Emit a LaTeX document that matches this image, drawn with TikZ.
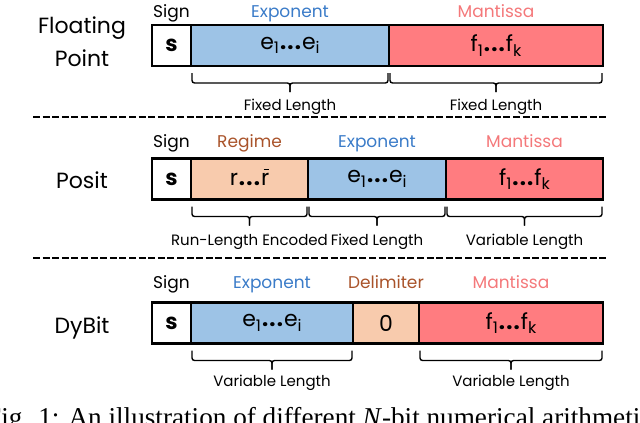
\documentclass[tikz,border=0pt]{standalone}
\usepackage{fontspec}
\setmainfont{Poppins}
\newfontfamily\capfont{Liberation Serif}
\usetikzlibrary{positioning,calc}
\definecolor{expfill}{HTML}{9DC3E6}
\definecolor{manfill}{HTML}{FF7C80}
\definecolor{regfill}{HTML}{F8CBAD}
\definecolor{exptext}{HTML}{3A7BC8}
\definecolor{mantext}{HTML}{F4787A}
\definecolor{regtext}{HTML}{A9532A}
\tikzset{
  field/.style={draw, line width=2.5pt, minimum height=41pt, inner sep=0pt,
    outer sep=0pt, anchor=west, font=\fontsize{22}{22}\selectfont},
  signfield/.style={field, minimum width=39pt, font=\fontsize{22}{22}\selectfont\bfseries},
  hdr/.style={anchor=base, inner sep=0pt, font=\fontsize{17}{17}\selectfont},
  rowname/.style={anchor=base, inner sep=0pt, font=\fontsize{22}{22}\selectfont},
  lenlabel/.style={anchor=base, inner sep=0pt, font=\fontsize{15}{15}\selectfont},
  bracket/.style={line width=1.4pt, rounded corners=2.5pt},
  sepline/.style={line width=2.5pt, dash pattern=on 7pt off 2.6pt},
}
% bracket under a field: #1 left, #2 right
\newcommand{\lenbrace}[2]{%
  \draw[bracket] ($(#1)+(1,7)$) |- ($(#1)!0.5!(#2)+(0,17)$) -- ++(0,9);
  \draw[bracket] ($(#2)+(-1,7)$) |- ($(#1)!0.5!(#2)+(0,17)$) -- ++(0,9);
}
\newcommand{\bitsub}[1]{\raisebox{-0.2em}{\fontsize{16}{16}\selectfont #1}}
\newcommand{\bitdots}{\kern1pt{\bfseries .\kern1.2pt.\kern1.2pt.}\kern1pt}
\newcommand{\ebits}{e\bitsub{1}\bitdots e\bitsub{i}}
\newcommand{\fbits}{f\bitsub{1}\bitdots f\bitsub{k}}
\newcommand{\rbar}{\ooalign{r\cr\hidewidth\kern0.1em\raisebox{0.68em}{\rule{0.24em}{0.07em}}\hidewidth\cr}}
\begin{document}
\begin{tikzpicture}[x=1pt, y=-1pt]
  \useasboundingbox (0,0) rectangle (640,423);
  \clip (0,0) rectangle (640,423);
  % --- floating point ---
  \node[rowname] (fpname1) at (82,33) {Floating};
  \node[rowname] (fpname2) at (82,66) {Point};
  \node[signfield] (fps) at (152,45.5) {s};
  \node[field, fill=expfill, minimum width=198pt] (fpe) at (fps.east) {\ebits};
  \node[field, fill=manfill, minimum width=214pt] (fpm) at (fpe.east) {\fbits};
  \node[hdr] (fpsh) at ([yshift=8pt]fps.north) {Sign};
  \node[hdr, text=exptext] (fpeh) at ([yshift=8pt]fpe.north) {Exponent};
  \node[hdr, text=mantext] (fpmh) at ([yshift=8pt]fpm.north) {Mantissa};
  \lenbrace{fpe.south west}{fpe.south east}
  \lenbrace{fpm.south west}{fpm.south east}
  \node[lenlabel] (fpel) at ([yshift=-44pt]fpe.south) {Fixed Length};
  \node[lenlabel] (fpml) at ([yshift=-44pt]fpm.south) {Fixed Length};
  \draw[sepline] (33,117) -- (607,117);
  % --- posit ---
  \node[rowname] (psname) at (82,188) {Posit};
  \node[signfield] (pss) at (152,179) {s};
  \node[field, fill=regfill, minimum width=117pt] (psr) at (pss.east) {r\bitdots\rbar};
  \node[field, fill=expfill, minimum width=138pt] (pse) at (psr.east) {\ebits};
  \node[field, fill=manfill, minimum width=157pt] (psm) at (pse.east) {\fbits};
  \node[hdr] (pssh) at ([yshift=11pt]pss.north) {Sign};
  \node[hdr, text=regtext] (psrh) at ([yshift=11pt]psr.north) {Regime};
  \node[hdr, text=exptext] (pseh) at ([yshift=11pt]pse.north) {Exponent};
  \node[hdr, text=mantext] (psmh) at ([yshift=11pt]psm.north) {Mantissa};
  \lenbrace{psr.south west}{psr.south east}
  \lenbrace{pse.south west}{pse.south east}
  \lenbrace{psm.south west}{psm.south east}
  \node[lenlabel] (psrl) at ([yshift=-46pt]psr.south) {Run-Length Encoded};
  \node[lenlabel] (psel) at ([yshift=-46pt]pse.south) {Fixed Length};
  \node[lenlabel] (psml) at ([yshift=-46pt]psm.south) {Variable Length};
  \draw[sepline] (33,258) -- (607,258);
  % --- dybit ---
  \node[rowname] (dbname) at (82,333) {DyBit};
  \node[signfield] (dbs) at (152,323) {s};
  \node[field, fill=expfill, minimum width=162pt] (dbe) at (dbs.east) {\ebits};
  \node[field, fill=regfill, minimum width=66pt] (dbd) at (dbe.east) {0};
  \node[field, fill=manfill, minimum width=184pt] (dbm) at (dbd.east) {\fbits};
  \node[hdr] (dbsh) at ([yshift=14pt]dbs.north) {Sign};
  \node[hdr, text=exptext] (dbeh) at ([yshift=14pt]dbe.north) {Exponent};
  \node[hdr, text=regtext] (dbdh) at ([yshift=14pt]dbd.north) {Delimiter};
  \node[hdr, text=mantext] (dbmh) at ([yshift=14pt]dbm.north) {Mantissa};
  \lenbrace{dbe.south west}{dbe.south east}
  \lenbrace{dbm.south west}{dbm.south east}
  \node[lenlabel] (dbel) at ([yshift=-43pt]dbe.south) {Variable Length};
  \node[lenlabel] (dbml) at ([yshift=-43pt]dbm.south) {Variable Length};
  % caption, cut by the page edges
  \node[anchor=base west, inner sep=0pt, font=\capfont\fontsize{27.2}{27.2}\selectfont]
    (caption) at (-14,426) {Fig. 1: An illustration of different \textit{N}-bit numerical arithmetic};
\end{tikzpicture}
\end{document}
